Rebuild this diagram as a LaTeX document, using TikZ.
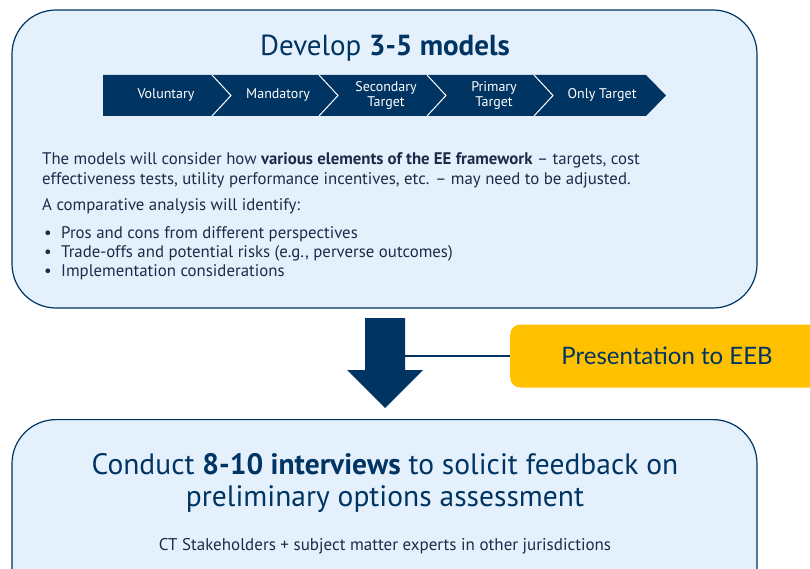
\documentclass[tikz,border=0pt]{standalone}
\usepackage{fontspec}
\setmainfont{PT Sans}
\newfontfamily\eebfont{Lato}
\usetikzlibrary{positioning}
\definecolor{navy}{RGB}{0,52,98}
\definecolor{paleblue}{RGB}{228,240,252}
\definecolor{gold}{RGB}{255,192,0}
\definecolor{ink}{RGB}{32,42,72}
\tikzset{
  panel/.style={draw=navy, line width=1.2pt, fill=paleblue, rounded corners=44pt},
  stage/.style={text=white, font=\fontsize{14}{14.5}\selectfont, align=center},
  body/.style={text=ink, font=\fontsize{16.8}{20}\selectfont, align=left, inner sep=0pt, anchor=north west}
}
\newcommand{\bulletitem}[1]{\makebox[17pt][l]{\textbullet}#1}

\begin{document}
\begin{tikzpicture}[x=1pt,y=-1pt]
    \useasboundingbox (0,0) rectangle (810,569);
    \clip (0,0) rectangle (810,569);

    % Top panel with title.
    \node[panel, minimum width=745pt, minimum height=298pt] (models) at (384.5,159) {};
    \node[text=navy, font=\fontsize{29}{29}\selectfont] (title) at (385,48) {Develop \textbf{3-5 models}};

    % Chevron strip of model types.
    \fill[navy] (103,75) -- (646,75) -- (666,95.5) -- (646,116) -- (103,116) -- cycle;
    \foreach \x in {212,319,427,534}
        \draw[white, line width=1pt] (\x,75) -- (\x+19,95.5) -- (\x,116);
    \node[stage] (vol) at (166,95.5) {Voluntary};
    \node[stage] (man) at (278,95.5) {Mandatory};
    \node[stage] (sec) at (386,95.5) {Secondary\\Target};
    \node[stage] (pri) at (494,95.5) {Primary\\Target};
    \node[stage] (only) at (602,95.5) {Only Target};

    % Description and bullets.
    \node[body] (intro) at (42,152) {The models will consider how \textbf{various elements of the EE framework} -- targets, cost\\effectiveness tests, utility performance incentives, etc. -- may need to be adjusted.};
    \node[body] (compare) [below=10pt of intro.south west, anchor=north west] {A comparative analysis will identify:};
    \node[body, font=\fontsize{16.8}{19}\selectfont] (list) [below=13pt of compare.south west, anchor=north west, xshift=2pt] {\bulletitem{Pros and cons from different perspectives}\\
        \bulletitem{Trade-offs and potential risks (e.g., perverse outcomes)}\\
        \bulletitem{Implementation considerations}};

    % Presentation box and link.
    \node[fill=gold, rounded corners=10pt, minimum width=330pt, minimum height=63pt, anchor=west] (eeb) at (510,356) {};
    \node[text=navy, font=\eebfont\fontsize{24}{24}\selectfont] (eebtext) at (667,356) {Presentation to EEB};
    \coordinate (shaft) at (385,356);
    \draw[navy, line width=2.2pt] (shaft) -- (eeb.west);

    % Block arrow down.
    \fill[navy] (365,318) -- (405,318) -- (405,370) -- (423,370) -- (385,408) -- (347,370) -- (365,370) -- cycle;

    % Bottom panel.
    \node[panel, minimum width=745pt, minimum height=260pt, anchor=north] (interviews) at (384.5,419) {};
    \node[text=navy, font=\fontsize{29.5}{32}\selectfont, align=center] (conduct) at (385,483) {Conduct \textbf{8-10 interviews} to solicit feedback on\\preliminary options assessment};
    \node[text=ink, font=\fontsize{17}{17}\selectfont] (who) at (385,546) {CT Stakeholders + subject matter experts in other jurisdictions};

\end{tikzpicture}
\end{document}
